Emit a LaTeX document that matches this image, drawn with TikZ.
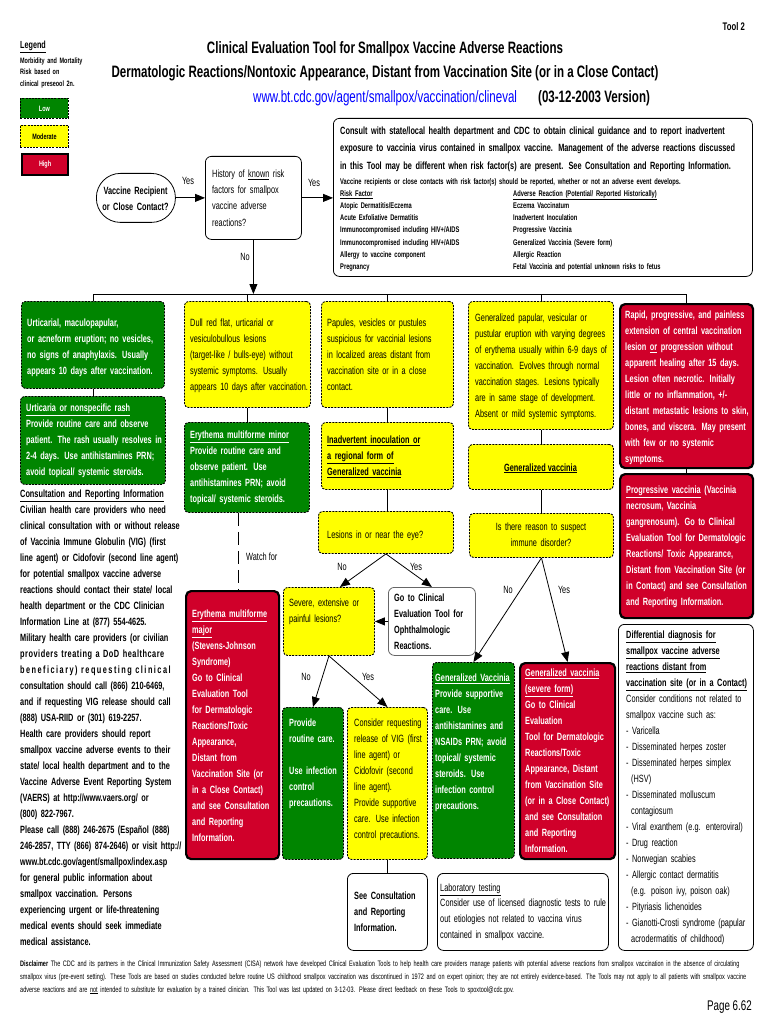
\documentclass[tikz,border=0pt]{standalone}
\usepackage{fontspec}
\setmainfont{Liberation Sans}[FakeStretch=0.70]
\usetikzlibrary{arrows.meta,calc}
\definecolor{grn}{RGB}{0,133,0}
\definecolor{yel}{RGB}{255,255,0}
\definecolor{redA}{RGB}{208,0,42}
\definecolor{urlc}{RGB}{0,0,255}
\newcommand\fBody{\fontsize{10.5}{16}\selectfont}
\newcommand\fCons{\fontsize{10.5}{17.5}\selectfont}
\newcommand\fSmall{\fontsize{8.2}{12.2}\selectfont}
\newcommand\fLeg{\fontsize{7.8}{11.5}\selectfont}
\newcommand\fDisc{\fontsize{7.9}{13}\selectfont}
\newcommand\fTitle{\fontsize{16.5}{19}\selectfont}
\newcommand\jline[1]{\makebox[162pt][s]{#1}}
\newcommand\mkbox[6]{\node[#1,anchor=north west,minimum width={(#5)-(#3)},minimum height={(#6)-(#4)}] (#2) at (#3,#4) {};}
\tikzset{
 ln/.style={line width=0.8pt},
 arr/.style={ln,-{Triangle[length=10pt,width=8pt]}},
 dsh/.style={draw=black,line width=0.9pt,dash pattern=on 2pt off 1.2pt},
 gbox/.style={dsh,fill=grn,rounded corners=4pt,inner sep=0pt},
 ybox/.style={dsh,fill=yel,rounded corners=4pt,inner sep=0pt},
 rbox/.style={draw=black,line width=2.2pt,fill=redA,rounded corners=5pt,inner sep=0pt},
 wbox/.style={draw=black,line width=0.8pt,fill=white,rounded corners=6pt,inner sep=0pt},
 tx/.style={inner sep=0pt,anchor=north west,align=left,text width=#1,yshift=9pt,execute at begin node={\rule{0pt}{9pt}}},
 txc/.style={inner sep=0pt,anchor=north,align=center,text width=#1,yshift=9pt,execute at begin node={\rule{0pt}{9pt}}},
 lab/.style={inner sep=0pt,font=\fBody},
}
\begin{document}
\begin{tikzpicture}[x=1pt,y=-1pt]
\useasboundingbox (0,0) rectangle (770,1024);
\fill[white] (0,0) rectangle (770,1024);
% header
\node[anchor=base east,inner sep=0pt,font=\fontsize{11}{12}\selectfont\bfseries] (tool) at (745,31) {Tool 2};
\node[anchor=base west,inner sep=0pt,font=\fontsize{10.3}{12}\selectfont\bfseries] (legend) at (20,49) {\underline{Legend}};
\node[tx=90,font=\fLeg\bfseries] (legtxt) at (20,63) {Morbidity and Mortality\\Risk based on\\clinical preseool 2n.};
\node[anchor=base,inner sep=0pt,font=\fTitle\bfseries] (title1) at (385,54) {Clinical Evaluation Tool for Smallpox Vaccine Adverse Reactions};
\node[anchor=base,inner sep=0pt,font=\fTitle\bfseries] (title2) at (385,78) {Dermatologic Reactions/Nontoxic Appearance, Distant from Vaccination Site (or in a Close Contact)};
\node[anchor=base west,inner sep=0pt,font=\fTitle,text=urlc] (url) at (253,103) {www.bt.cdc.gov/agent/smallpox/vaccination/clineval};
\node[anchor=base west,inner sep=0pt,font=\fTitle\bfseries] (ver) at (538,103) {(03-12-2003 Version)};
% legend boxes
\mkbox{gbox,sharp corners}{low}{20}{98}{68}{118}
\node[font=\fLeg\bfseries,text=white] (lowt) at (low) {Low};
\mkbox{ybox,sharp corners}{mod}{20}{125}{68}{147}
\node[font=\fLeg\bfseries] (modt) at (mod) {Moderate};
\mkbox{rbox,sharp corners}{high}{21}{153}{67}{174}
\node[font=\fLeg\bfseries,text=white] (hight) at (high) {High};
% top flow
\mkbox{wbox,rounded corners=24pt}{vr}{96}{173}{175}{222}
\node[txc=90,font=\fBody\bfseries] (vrt) at (135.5,194) {Vaccine Recipient\\or Close Contact?};
\mkbox{wbox}{hist}{205}{156}{301}{239}
\node[tx=95,font=\fontsize{10.5}{16.3}\selectfont] (histt) at (212,177) {History of \underline{known} risk\\factors for smallpox\\vaccine adverse\\reactions?};
\mkbox{wbox}{cons}{333}{118}{752}{276}
\node[tx=430,font=\fCons\bfseries] (const) at (340,134) {Consult with state/local health department and CDC to obtain clinical guidance and to report inadvertent\\exposure to vaccinia virus contained in smallpox vaccine.  Management of the adverse reactions discussed\\in this Tool may be different when risk factor(s) are present.  See Consultation and Reporting Information.};
\node[tx=430,font=\fSmall\bfseries] (consL) at (340,184) {Vaccine recipients or close contacts with risk factor(s) should be reported, whether or not an adverse event develops.\\\underline{Risk Factor}\\Atopic Dermatitis/Eczema\\Acute Exfoliative Dermatitis\\Immunocompromised including HIV+/AIDS\\Immunocompromised including HIV+/AIDS\\Allergy to vaccine component\\Pregnancy};
\node[tx=240,font=\fSmall\bfseries] (consR) at (513,196.2) {\underline{Adverse Reaction (Potential/ Reported Historically)}\\Eczema Vaccinatum\\Inadvertent Inoculation\\Progressive Vaccinia\\Generalized Vaccinia (Severe form)\\Allergic Reaction\\Fetal Vaccinia and potential unknown risks to fetus};
\draw[arr] (vr.east) -- (hist.west);
\draw[arr] (hist.east) -- (hist.east -| cons.west);
\node[lab] (yes1) at (188,181) {Yes};
\node[lab] (yes2) at (314,183) {Yes};
\node[lab] (no1) at (245,257) {No};
% column boxes
\mkbox{gbox}{c1}{21}{301}{164}{388}
\mkbox{gbox}{c1b}{20}{396}{165}{484}
\mkbox{ybox}{c2}{184}{301}{310}{407}
\mkbox{gbox}{c2b}{184}{422}{309}{512}
\mkbox{ybox}{c3}{321}{301}{453}{407}
\mkbox{ybox}{c3b}{321}{422}{453}{489}
\mkbox{ybox}{les}{318}{511}{453}{553}
\mkbox{ybox}{sev}{283}{587}{374}{655}
\mkbox{wbox,draw=gray!80!black}{goto}{388}{587}{475}{655}
\mkbox{rbox}{em}{185}{590}{278}{858}
\mkbox{gbox}{prov}{282}{707}{343}{859}
\mkbox{ybox}{cvig}{347}{707}{427}{859}
\mkbox{wbox}{seec}{347}{873}{427}{950}
\mkbox{ybox}{c4}{468}{301}{613}{429}
\mkbox{ybox}{c4b}{468}{444}{613}{489}
\mkbox{ybox}{imm}{469}{513}{613}{557}
\mkbox{gbox}{gv}{432}{662}{514}{858}
\mkbox{rbox}{gvs}{519}{662}{614}{858}
\mkbox{wbox}{lab}{437}{873}{608}{950}
\mkbox{rbox}{c5}{619}{303}{752}{467}
\mkbox{rbox}{c5b}{619}{473}{752}{617}
\mkbox{wbox}{diff}{618}{624}{753}{950}
% bus and connectors
\coordinate (bus) at (0,294);
\draw[arr] (hist.south) -- (hist.south |- bus);
\draw[ln] (c1.north) -- (c1.north |- bus) -- (c5.north |- bus) -- (c5.north);
\foreach \n in {c2,c3,c4} \draw[ln] (\n.north) -- (\n.north |- bus);
\draw[ln] (c1.south) -- (c1b.north);
\draw[ln] (c2.south) -- (c2.south |- c2b.north);
\draw[ln] (c3.south) -- (c3.south |- c3b.north);
\draw[ln] (c3b.south) -- (c3b.south |- les.north);
\draw[ln] (c4.south) -- (c4.south |- c4b.north);
\draw[ln] (c4b.south) -- (c4b.south |- imm.north);
\draw[ln] (c5.south) -- (c5.south |- c5b.north);
\coordinate (wf) at ($(c2b.south)+(-9,0)$);
\draw[ln,dash pattern=on 13pt off 6pt] (wf) -- (wf |- em.north);
\node[lab,anchor=west] (watch) at (246,557) {Watch for};
\draw[arr] (les.south) -- ($(sev.north)+(11,0)$);
\draw[arr] (les.south) -- (goto.north);
\node[lab] (no2) at (342,567) {No};
\node[lab] (yes3) at (416,567) {Yes};
\draw[arr] (goto.west) -- (sev.east);
\draw[arr] (sev.south) -- (prov.north);
\draw[arr] (sev.south) -- (cvig.north);
\node[lab] (no3) at (306,677) {No};
\node[lab] (yes4) at (368,677) {Yes};
\draw[ln] (cvig.south) -- (cvig.south |- seec.north);
\draw[arr] (imm.south) -- (gv.north);
\draw[arr] (imm.south) -- (gvs.north);
\node[lab] (no4) at (508,590) {No};
\node[lab] (yes5) at (564,590) {Yes};
% box texts
\node[tx=150,font=\fBody\bfseries,text=white] (c1t) at (27,326) {Urticarial, maculopapular,\\or acneform eruption; no vesicles,\\no signs of anaphylaxis.  Usually\\appears 10 days after vaccination.};
\node[tx=150,font=\fBody\bfseries,text=white] (c1bt) at (26,411) {\underline{Urticaria or nonspecific rash}\\Provide routine care and observe\\patient.  The rash usually resolves in\\2-4 days.  Use antihistamines PRN;\\avoid topical/ systemic steroids.};
\node[tx=130,font=\fBody] (c2t) at (190,326) {Dull red flat, urticarial or\\vesiculobullous lesions\\(target-like / bulls-eye) without\\systemic symptoms.  Usually\\appears 10 days after vaccination.};
\node[tx=130,font=\fBody\bfseries,text=white] (c2bt) at (190,438) {\underline{Erythema multiforme minor}\\Provide routine care and\\observe patient.  Use\\antihistamines PRN; avoid\\topical/ systemic steroids.};
\node[tx=135,font=\fBody] (c3t) at (327,326) {Papules, vesicles or pustules\\suspicious for vaccinial lesions\\in localized areas distant from\\vaccination site or in a close\\contact.};
\node[tx=135,font=\fBody\bfseries] (c3bt) at (327,443) {\underline{Inadvertent inoculation or}\\\underline{a regional form of}\\\underline{Generalized vaccinia}};
\node[tx=135,font=\fBody] (lest) at (327,538) {Lesions in or near the eye?};
\node[tx=95,font=\fBody] (sevt) at (289,606) {Severe, extensive or\\painful lesions?};
\node[tx=90,font=\fBody\bfseries] (gotot) at (394,601) {Go to Clinical\\Evaluation Tool for\\Ophthalmologic\\Reactions.};
\node[tx=95,font=\fBody\bfseries,text=white] (emt) at (192,617) {\underline{Erythema multiforme}\\\underline{major}\\(Stevens-Johnson\\Syndrome)\\Go to Clinical\\Evaluation Tool\\for Dermatologic\\Reactions/Toxic\\Appearance,\\Distant from\\Vaccination Site (or\\in a Close Contact)\\and see Consultation\\and Reporting\\Information.};
\node[tx=70,font=\fBody\bfseries,text=white] (provt) at (289,726) {Provide\\routine care.\\\mbox{}\\Use infection\\control\\precautions.};
\node[tx=85,font=\fBody] (cvigt) at (354,726) {Consider requesting\\release of VIG (first\\line agent) or\\Cidofovir (second\\line agent).\\Provide supportive\\care. Use infection\\control precautions.};
\node[tx=80,font=\fBody\bfseries] (seect) at (354,899) {See Consultation\\and Reporting\\Information.};
\node[tx=150,font=\fBody] (c4t) at (475,321) {Generalized papular, vesicular or\\pustular eruption with varying degrees\\of erythema usually within 6-9 days of\\vaccination. Evolves through normal\\vaccination stages.  Lesions typically\\are in same stage of development.\\Absent or mild systemic symptoms.};
\node[anchor=base,inner sep=0pt,font=\fBody\bfseries] (c4bt) at (540.5,471) {\underline{Generalized vaccinia}};
\node[txc=140,font=\fontsize{10.5}{16.5}\selectfont] (immt) at (541,530) {Is there reason to suspect\\immune disorder?};
\node[tx=85,font=\fBody\bfseries,text=white] (gvt) at (435,681) {\underline{Generalized Vaccinia}\\Provide supportive\\care.  Use\\antihistamines and\\NSAIDs PRN; avoid\\topical/ systemic\\steroids.  Use\\infection control\\precautions.};
\node[tx=95,font=\fBody\bfseries,text=white] (gvst) at (525,676) {\underline{Generalized vaccinia}\\\underline{(severe form)}\\Go to Clinical\\Evaluation\\Tool for Dermatologic\\Reactions/Toxic\\Appearance, Distant\\from Vaccination Site\\(or in a Close Contact)\\and see Consultation\\and Reporting\\Information.};
\node[tx=175,font=\fontsize{10.5}{15.7}\selectfont] (labt) at (440,891) {\underline{Laboratory testing}\\Consider use of licensed diagnostic tests to rule\\out etiologies not related to vaccina virus\\contained in smallpox vaccine.};
\node[tx=140,font=\fBody\bfseries,text=white] (c5t) at (625,318) {Rapid, progressive, and painless\\extension of central vaccination\\lesion \underline{or} progression without\\apparent healing after 15 days.\\Lesion often necrotic.  Initially\\little or no inflammation, +/-\\distant metastatic lesions to skin,\\bones, and viscera.  May present\\with few or no systemic\\symptoms.};
\node[tx=140,font=\fBody\bfseries,text=white] (c5bt) at (626,493) {\underline{Progressive vaccinia} (Vaccinia\\necrosum, Vaccinia\\gangrenosum).  Go to Clinical\\Evaluation Tool for Dermatologic\\Reactions/ Toxic Appearance,\\Distant from Vaccination Site (or\\in Contact) and see Consultation\\and Reporting Information.};
\node[tx=140,font=\fBody] (difft) at (626,638) {\textbf{\underline{Differential diagnosis for}}\\\textbf{\underline{smallpox vaccine adverse}}\\\textbf{\underline{reactions distant from}}\\\textbf{\underline{vaccination site (or in a Contact)}}\\Consider conditions not related to\\smallpox vaccine such as:\\- Varicella\\- Disseminated herpes zoster\\- Disseminated herpes simplex\\\hspace*{5pt}(HSV)\\- Disseminated molluscum\\\hspace*{5pt}contagiosum\\- Viral exanthem (e.g. enteroviral)\\- Drug reaction\\- Norwegian scabies\\- Allergic contact dermatitis\\\hspace*{5pt}(e.g. poison ivy, poison oak)\\- Pityriasis lichenoides\\- Gianotti-Crosti syndrome (papular\\\hspace*{5pt}acrodermatitis of childhood)};
% left column
\node[tx=175,font=\fBody\bfseries] (crinfo) at (20,497) {\underline{Consultation and Reporting Information}\\
\jline{Civilian health care providers who need}\\
\jline{clinical consultation with or without release}\\
\jline{of Vaccinia Immune Globulin (VIG) (first}\\
\jline{line agent) or Cidofovir (second line agent)}\\
\jline{for potential smallpox vaccine adverse}\\
\jline{reactions should contact their state/ local}\\
\jline{health department or the CDC Clinician}\\
Information Line at (877) 554-4625.\\
\jline{Military health care providers (or civilian}\\
\jline{\addfontfeature{LetterSpace=5}providers treating a DoD healthcare}\\
\jline{\addfontfeature{LetterSpace=14}beneficiary) requesting clinical}\\
\jline{consultation should call (866) 210-6469,}\\
\jline{and if requesting VIG release should call}\\
(888) USA-RIID or (301) 619-2257.\\
\jline{Health care providers should report}\\
\jline{smallpox vaccine adverse events to their}\\
\jline{state/ local health department and to the}\\
\jline{Vaccine Adverse Event Reporting System}\\
(VAERS) at http://www.vaers.org/ or\\
(800) 822-7967.\\
Please call (888) 246-2675 (Español (888)\\
246-2857, TTY (866) 874-2646) or visit http://\\
www.bt.cdc.gov/agent/smallpox/index.asp\\
for general public information about\\
smallpox vaccination.  Persons\\
experiencing urgent or life-threatening\\
medical events should seek immediate\\
medical assistance.};
% footer
\node[tx=800,font=\fDisc] (disc) at (20,966) {\textbf{Disclaimer} The CDC and its partners in the Clinical Immunization Safety Assessment (CISA) network have developed Clinical Evaluation Tools to help health care providers manage patients with potential adverse reactions from smallpox vaccination in the absence of circulating\\smallpox virus (pre-event setting).  These Tools are based on studies conducted before routine US childhood smallpox vaccination was discontinued in 1972 and on expert opinion; they are not entirely evidence-based. The Tools may not apply to all patients with smallpox vaccine\\adverse reactions and are \underline{not} intended to substitute for evaluation by a trained clinician. This Tool was last updated on 3-12-03.  Please direct feedback on these Tools to spoxtool@cdc.gov.};
\node[anchor=base east,inner sep=0pt,font=\fontsize{14}{16}\selectfont] (page) at (752,1010) {Page 6.62};
\end{tikzpicture}
\end{document}
